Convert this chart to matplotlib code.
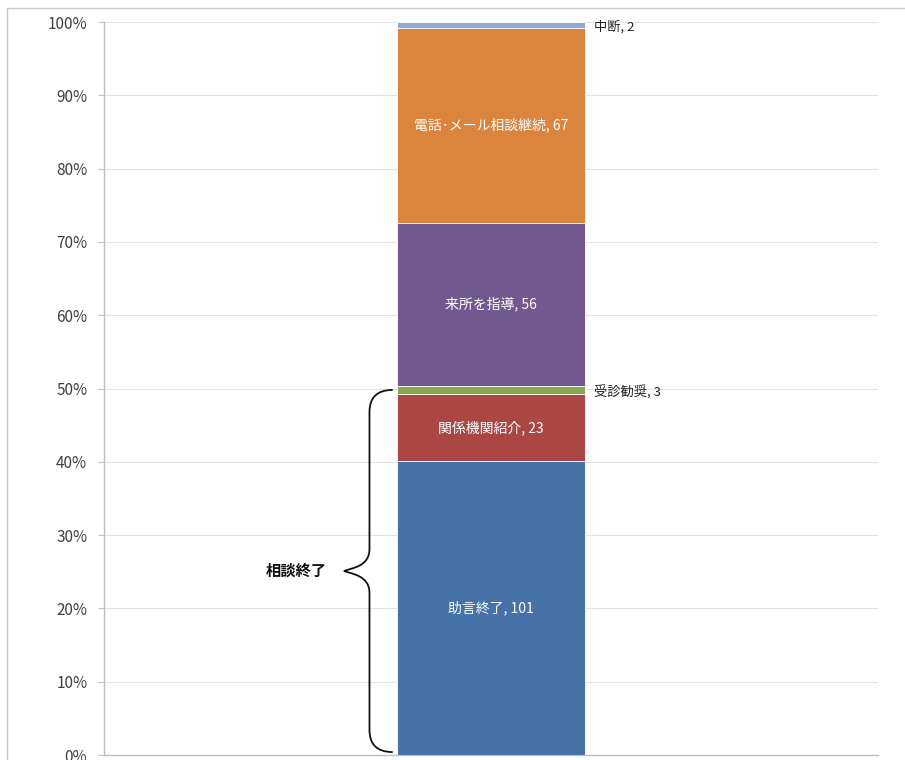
import matplotlib
matplotlib.use("Agg")
import matplotlib.pyplot as plt
from matplotlib.path import Path
from matplotlib.patches import PathPatch, Rectangle
import numpy as np

plt.rcParams['font.family'] = ['Noto Sans CJK JP', 'DejaVu Sans']

# データ
categories = ['助言終了', '関係機関紹介', '受診勧奨', '来所を指導', '電話･メール相談継続', '中断']
counts = [101, 23, 3, 56, 67, 2]
colors = ['#4572A7', '#AA4643', '#89A54E', '#71588F', '#DB843D', '#93A9CF']
inside = [True, True, False, True, True, False]
yticks = [0, 10, 20, 30, 40, 50, 60, 70, 80, 90, 100]
brace_label = '相談終了'

total = sum(counts)
shares = [c / total for c in counts]

fig = plt.figure(figsize=(9.05, 7.6), dpi=100)
ax = fig.add_axes([104 / 905, 5 / 760, 774 / 905, 733 / 760])

# 外枠
fig.patches.append(Rectangle((7 / 905, -0.1), 1.2, (752 / 760) + 0.1,
                             transform=fig.transFigure, fill=False,
                             edgecolor='#c8c8c8', linewidth=1.0))

bar_w = 188 / 774
bottom = 0.0
for name, n, s, c, inn in zip(categories, counts, shares, colors, inside):
    ax.bar(0, s, width=bar_w, bottom=bottom, color=c, edgecolor='white',
           linewidth=0.6, zorder=3)
    mid = bottom + s / 2
    if inn:
        ax.text(0, mid, f'{name}, {n}', ha='center', va='center',
                color='white', fontsize=10, zorder=4)
    else:
        ax.text(bar_w / 2 + 0.012, mid - 0.003, f'{name}, {n}', ha='left', va='center',
                color='#222222', fontsize=9.5, zorder=4)
    bottom += s

ax.set_xlim(-0.5, 0.5)
ax.set_ylim(0, 1)
ax.set_yticks([t / 100 for t in yticks])
ax.set_yticklabels([f'{t}%' for t in yticks], fontsize=11, color='#404040')
ax.set_xticks([])
ax.tick_params(axis='y', length=4, color='#bfbfbf', pad=8)
ax.grid(axis='y', color='#e3e3e3', linewidth=0.8, zorder=0)
for sp in ['top', 'right']:
    ax.spines[sp].set_visible(False)
for sp in ['left', 'bottom']:
    ax.spines[sp].set_color('#bfbfbf')
    ax.spines[sp].set_linewidth(1.0)

# 中かっこ（相談終了）
y_top = (counts[0] + counts[1]) / total + 0.006
y_bot = 0.004
y_mid = (y_top + y_bot) / 2
x_end = -0.127
x_bar = -0.157
x_tip = -0.190
r = 0.03
verts = [
    (x_end, y_top), (x_bar, y_top), (x_bar, y_top - r),
    (x_bar, y_mid + r),
    (x_bar, y_mid + 0.006), (x_tip + 0.01, y_mid + 0.004), (x_tip, y_mid),
    (x_tip + 0.01, y_mid - 0.004), (x_bar, y_mid - 0.006), (x_bar, y_mid - r),
    (x_bar, y_bot + r),
    (x_bar, y_bot), (x_end, y_bot),
]
codes = [Path.MOVETO, Path.CURVE3, Path.CURVE3,
         Path.LINETO,
         Path.CURVE4, Path.CURVE4, Path.CURVE4,
         Path.CURVE4, Path.CURVE4, Path.CURVE4,
         Path.LINETO,
         Path.CURVE3, Path.CURVE3]
ax.add_patch(PathPatch(Path(verts, codes), fill=False, edgecolor='#111111',
                       linewidth=1.3, zorder=5, clip_on=False))
ax.text(-0.252, y_mid, brace_label, ha='center', va='center',
        fontsize=11, fontweight='bold', color='#111111')

fig.savefig('out.png', dpi=100, facecolor='white')
